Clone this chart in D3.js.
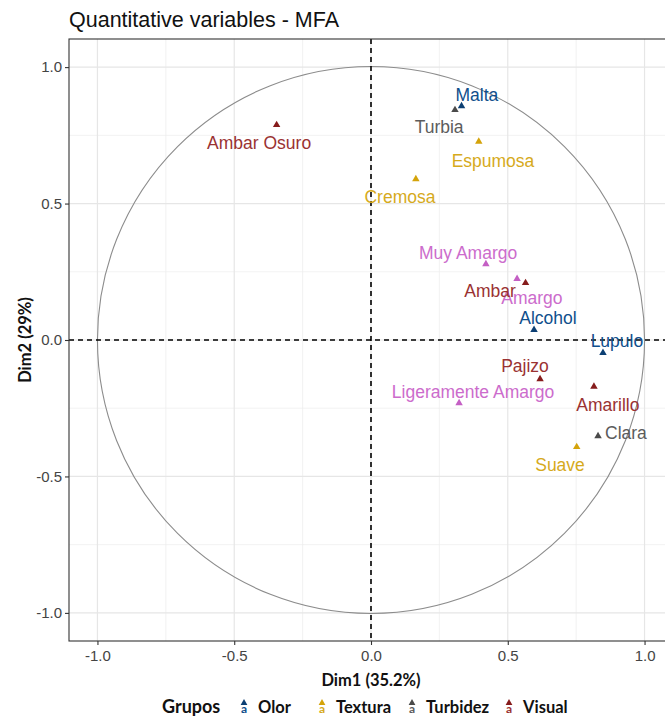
<!DOCTYPE html>
<html><head><meta charset="utf-8">
<script src="https://cdn.jsdelivr.net/npm/d3@7"></script>
<style>body{margin:0;background:#fff}</style>
</head><body>
<svg id="c" width="665" height="717"></svg>
<script>
const names = ["Malta","Turbia","Espumosa","Cremosa","Ambar Osuro","Muy Amargo","Amargo","Ambar","Alcohol","Lupulo","Pajizo","Ligeramente Amargo","Amarillo","Clara","Suave"];
const groups = ["Olor","Turbidez","Textura","Textura","Visual","Sabor","Sabor","Visual","Olor","Olor","Visual","Sabor","Visual","Turbidez","Textura"];
const dim1 = [0.331,0.307,0.394,0.164,-0.345,0.420,0.534,0.565,0.596,0.848,0.618,0.322,0.815,0.830,0.752];
const dim2 = [0.857,0.843,0.727,0.590,0.788,0.278,0.224,0.209,0.037,-0.047,-0.143,-0.231,-0.171,-0.352,-0.392];
// repelled label positions (data units)
const labX = [0.387,0.249,0.446,0.106,-0.409,0.355,0.588,0.435,0.647,0.899,0.563,0.373,0.866,0.932,0.691];
const labY = [0.898,0.781,0.656,0.524,0.722,0.319,0.154,0.180,0.081,-0.004,-0.095,-0.191,-0.238,-0.341,-0.458];
const legendGroups = ["Olor","Textura","Turbidez","Visual"];
const tickVals = [-1,-0.5,0,0.5,1];
const minorVals = [-0.75,-0.25,0.25,0.75];

const pointColor = {Olor:"#0c3f73",Textura:"#d4a30a",Turbidez:"#4a4a4a",Visual:"#861c1c",Sabor:"#c45fc4"};
const textColor = {Olor:"#0f4f8c",Textura:"#d6aa1c",Turbidez:"#5c5c5c",Visual:"#9a3232",Sabor:"#cc6ccc"};

const svg = d3.select("#c");
const L=69, R=673, T=39, B=641;
const x = d3.scaleLinear().domain([-1.104,1.104]).range([L,R]);
const y = d3.scaleLinear().domain([-1.103,1.103]).range([B,T]);

svg.append("rect").attr("x",L).attr("y",T).attr("width",R-L).attr("height",B-T).attr("fill","#fff");
const grid = svg.append("g");
minorVals.forEach(v=>{
  grid.append("line").attr("x1",x(v)).attr("x2",x(v)).attr("y1",T).attr("y2",B).attr("stroke","#ececec").attr("stroke-width",0.7);
  grid.append("line").attr("y1",y(v)).attr("y2",y(v)).attr("x1",L).attr("x2",R).attr("stroke","#ececec").attr("stroke-width",0.7);
});
tickVals.forEach(v=>{
  grid.append("line").attr("x1",x(v)).attr("x2",x(v)).attr("y1",T).attr("y2",B).attr("stroke","#e6e6e6").attr("stroke-width",1.2);
  grid.append("line").attr("y1",y(v)).attr("y2",y(v)).attr("x1",L).attr("x2",R).attr("stroke","#e6e6e6").attr("stroke-width",1.2);
});

// correlation circle
svg.append("circle").attr("cx",x(0)).attr("cy",y(0)).attr("r",x(1)-x(0))
  .attr("fill","none").attr("stroke","#8c8c8c").attr("stroke-width",1.1);

// dashed axes
svg.append("line").attr("x1",x(0)).attr("x2",x(0)).attr("y1",T).attr("y2",B).attr("stroke","#000").attr("stroke-width",1.6).attr("stroke-dasharray","5,4");
svg.append("line").attr("y1",y(0)).attr("y2",y(0)).attr("x1",L).attr("x2",R).attr("stroke","#000").attr("stroke-width",1.6).attr("stroke-dasharray","5,4");

// points
const tri = d3.symbol().type(d3.symbolTriangle).size(24);
names.forEach((n,i)=>{
  svg.append("path").attr("d",tri).attr("transform",`translate(${x(dim1[i])},${y(dim2[i])})`).attr("fill",pointColor[groups[i]]);
});
names.forEach((n,i)=>{
  svg.append("text").attr("x",x(labX[i])).attr("y",y(labY[i])).attr("dy","0.36em")
    .attr("text-anchor","middle").attr("font-family","Liberation Sans, Arial, sans-serif")
    .attr("font-size",17.5).attr("fill",textColor[groups[i]]).text(n);
});

// border
svg.append("rect").attr("x",L).attr("y",T).attr("width",R-L).attr("height",B-T).attr("fill","none").attr("stroke","#333").attr("stroke-width",1.1);

const fmt = d=>d.toFixed(1);
const xa = svg.append("g").attr("transform",`translate(0,${B})`).call(d3.axisBottom(x).tickValues(tickVals).tickFormat(fmt).tickSize(4).tickPadding(5));
const ya = svg.append("g").attr("transform",`translate(${L},0)`).call(d3.axisLeft(y).tickValues(tickVals).tickFormat(fmt).tickSize(4).tickPadding(3));
[xa,ya].forEach(a=>{
  a.select(".domain").remove();
  a.selectAll(".tick line").attr("stroke","#333").attr("stroke-width",1.1);
  a.selectAll("text").attr("font-family","Liberation Sans, Arial, sans-serif").attr("font-size",15).attr("fill","#444");
});

// title
svg.append("text").attr("x",L).attr("y",27).attr("font-family","Liberation Sans, Arial, sans-serif").attr("font-size",21.5).attr("fill","#111").text("Quantitative variables - MFA");
// axis titles
svg.append("text").attr("x",x(0)).attr("y",686).attr("text-anchor","middle").attr("font-family","Lato, sans-serif").attr("font-weight","bold").attr("font-size",16.5).attr("fill","#111").text("Dim1 (35.2%)");
svg.append("text").attr("transform",`translate(31,${y(0)}) rotate(-90)`).attr("text-anchor","middle").attr("font-family","Lato, sans-serif").attr("font-weight","bold").attr("font-size",16.5).attr("fill","#111").text("Dim2 (29%)");

// legend
const leg = svg.append("g").attr("font-family","Lato, sans-serif").attr("font-weight","bold");
leg.append("text").attr("x",162).attr("y",713).attr("font-size",18).attr("fill","#111").text("Grupos");
const keyX = [244,322,412,509];
const smallTri = d3.symbol().type(d3.symbolTriangle).size(20);
legendGroups.forEach((g,i)=>{
  const kx = keyX[i];
  leg.append("text").attr("x",kx).attr("y",713).attr("text-anchor","middle").attr("font-size",12).attr("fill",textColor[g]).text("a");
  leg.append("path").attr("d",smallTri).attr("transform",`translate(${kx},${703})`).attr("fill",pointColor[g]);
  leg.append("text").attr("x",kx+14).attr("y",713).attr("font-size",16.5).attr("fill","#111").text(g);
});
</script>
</body></html>
